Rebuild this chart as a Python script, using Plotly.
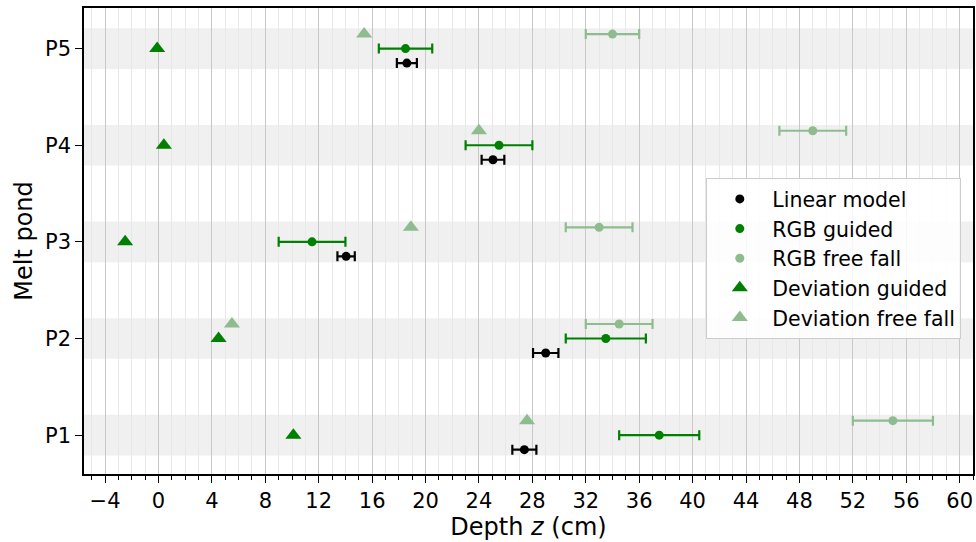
import plotly.graph_objects as go

ponds = ["P1", "P2", "P3", "P4", "P5"]
pond_pos = [1, 2, 3, 4, 5]

linear_z = [27.4, 29.0, 14.05, 25.05, 18.6]
linear_err = [0.9, 0.95, 0.65, 0.85, 0.75]

rgb_guided_z = [37.5, 33.5, 11.5, 25.5, 18.5]
rgb_guided_err = [3.0, 3.0, 2.5, 2.5, 2.0]

rgb_free_z = [55.0, 34.5, 33.0, 49.0, 34.0]
rgb_free_err = [3.0, 2.5, 2.5, 2.5, 2.0]

dev_guided_z = [10.1, 4.5, -2.5, 0.4, -0.1]
dev_free_z = [27.6, 5.5, 18.9, 24.0, 15.4]

GREEN = "#008000"
LIGHT = "#8fbc8f"
off = 0.15

fig = go.Figure()

for p in pond_pos:
    fig.add_shape(type="rect", xref="paper", yref="y", x0=0, x1=1, y0=p - 0.21, y1=p + 0.21,
                  fillcolor="#f0f0f0", line_width=0, layer="below")

def eb_trace(z, err, dy, color, name):
    return go.Scatter(
        x=z, y=[p + dy for p in pond_pos], mode="markers", name=name,
        marker=dict(color=color, size=9, symbol="circle"),
        error_x=dict(type="data", array=err, color=color, thickness=2.2, width=5),
    )

fig.add_trace(eb_trace(linear_z, linear_err, -off, "black", "Linear model"))
fig.add_trace(eb_trace(rgb_guided_z, rgb_guided_err, 0, GREEN, "RGB guided"))
fig.add_trace(eb_trace(rgb_free_z, rgb_free_err, off, LIGHT, "RGB free fall"))
fig.add_trace(go.Scatter(x=dev_guided_z, y=pond_pos, mode="markers", name="Deviation guided",
                         marker=dict(color=GREEN, size=14, symbol="triangle-up")))
fig.add_trace(go.Scatter(x=dev_free_z, y=[p + off for p in pond_pos], mode="markers",
                         name="Deviation free fall",
                         marker=dict(color=LIGHT, size=14, symbol="triangle-up")))

font_family = "DejaVu Sans"
fig.update_layout(
    width=976, height=542,
    margin=dict(l=84, r=1, t=8, b=68),
    paper_bgcolor="white", plot_bgcolor="white",
    font=dict(family=font_family, size=20, color="black"),
    showlegend=True,
    legend=dict(x=0.70, y=0.635, xanchor="left", yanchor="top",
                bgcolor="rgba(255,255,255,0.85)", bordercolor="#cccccc", borderwidth=1,
                font=dict(size=20.5), itemwidth=55, tracegroupgap=0),
)

fig.update_xaxes(
    range=[-5.58, 61.0], tickmode="linear", tick0=0, dtick=4,
    showgrid=True, gridcolor="#c8c8c8", gridwidth=1,
    ticks="outside", ticklen=7, tickwidth=1.2, tickcolor="black",
    showline=True, linecolor="black", linewidth=1.5, mirror=True,
    zeroline=False,
    minor=dict(dtick=1, tick0=0, showgrid=True, gridcolor="#e8e8e8", gridwidth=1,
               ticks="outside", ticklen=4, tickcolor="black"),
    title=dict(text="Depth <i>z</i> (cm)", font=dict(size=24), standoff=3),
    tickfont=dict(size=21),
)
fig.update_yaxes(
    range=[0.598, 5.42], tickmode="array", tickvals=pond_pos, ticktext=ponds,
    showgrid=False, zeroline=False,
    ticks="outside", ticklen=7, tickwidth=1.2, tickcolor="black",
    showline=True, linecolor="black", linewidth=1.5, mirror=True,
    title=dict(text="Melt pond", font=dict(size=24), standoff=6),
    tickfont=dict(size=21),
)

fig.write_html("out.html")
